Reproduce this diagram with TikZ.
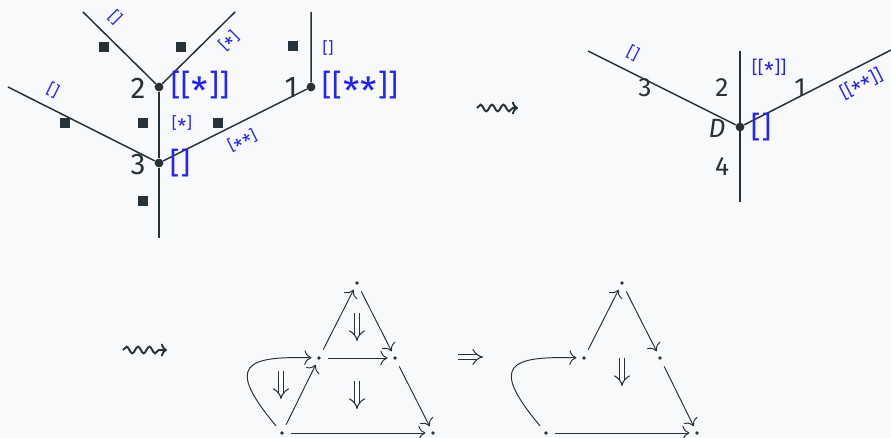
\documentclass[tikz,border=0pt]{standalone}
\usepackage{fontspec}
\setmainfont{Fira Sans}
\usetikzlibrary{arrows.meta,positioning,decorations.pathmorphing}
\definecolor{ink}{HTML}{263238}
\definecolor{lbl}{HTML}{2222FF}
\definecolor{paper}{HTML}{F8F9FA}
\newcommand{\st}{\kern.02em\raisebox{-.32em}{\scalebox{1.25}{*}}\kern.02em}
\newcommand{\ob}{[\kern.02em}
\newcommand{\cb}{\kern.02em]}
\begin{document}
\begin{tikzpicture}[
    x=0.02cm, y=-0.02cm,
    edge/.style={ink, line width=0.85pt},
    dot/.style={circle, fill=ink, inner sep=0, minimum size=5pt},
    pt/.style={circle, fill=ink, inner sep=0, minimum size=2.2pt},
    sq/.style={fill=ink, inner sep=0, minimum size=5.6pt},
    num/.style={text=ink, font=\fontsize{17}{17}\selectfont},
    numr/.style={text=ink, font=\fontsize{15}{15}\selectfont},
    big/.style={text=lbl, font=\fontsize{17}{17}\selectfont},
    small/.style={text=lbl, font=\fontsize{9}{9}\selectfont},
    arr/.style={ink, line width=0.55pt, -{To[length=4pt]}, shorten <=4pt, shorten >=3pt},
    dbl/.style={ink, line width=0.6pt, double, double distance=2.6pt, -{Implies}},
    wave/.style={ink, line width=1.1pt, -{To[length=3.5pt]}, decorate,
        decoration={snake, amplitude=1.9pt, segment length=6.5pt, post length=3pt}}
]
\fill[paper] (0,0) rectangle (891,438);
\useasboundingbox (0,0) rectangle (891,438);

% Left tree
\node[dot] (n2) at (159,87) {};
\node[dot] (n3) at (159,163) {};
\node[dot] (n1) at (311,87) {};
\coordinate (a) at (83,12);
\coordinate (b) at (235,12);
\coordinate (c) at (8,87);
\coordinate (d) at (311,12);
\coordinate (e) at (159,238);
\draw[edge] (a) -- (n2) -- (b);
\draw[edge] (n2) -- (n3) -- (e);
\draw[edge] (c) -- (n3) -- (n1) -- (d);

\node[num] (l2) at (138,88) {2};
\node[big] (w2) at (200,88) {\ob\ob\st\cb\cb};
\node[num] (l1) at (291,88) {1};
\node[big] (w1) at (360,88) {\ob\ob\st\st\cb\cb};
\node[num] (l3) at (138,165) {3};
\node[big] (w3) at (180,163) {\ob\cb};

\node[small, rotate=-45] (ea) at (115,17) {\ob\cb};
\node[small, rotate=45] (eb) at (230,42) {\ob\st\cb};
\node[small] (ed) at (328,48) {\ob\cb};
\node[small, rotate=-26.5] (ec) at (53,90) {\ob\cb};
\node[small] (em) at (182,125) {\ob\st\cb};
\node[small, rotate=26] (en) at (243,142) {\ob\st\st\cb};

\foreach \x/\y [count=\i] in {104/47, 181/47, 293/46, 65/123, 143/123, 218/123, 143/201}
    \node[sq] (s\i) at (\x,\y) {};

% First step
\coordinate (p1) at (477,108);
\coordinate (q1) at (518,108);
\draw[wave] (p1) -- (q1);

% Right tree
\node[dot] (nd) at (740,127) {};
\coordinate (f) at (588,51);
\coordinate (g) at (740,51);
\coordinate (h) at (740,202);
\coordinate (k) at (891,50);
\draw[edge] (f) -- (nd) -- (k);
\draw[edge] (g) -- (h);

\node[numr] (r3) at (645,88) {3};
\node[numr] (r2) at (722,88) {2};
\node[numr] (r1) at (800,88) {1};
\node[numr] (r4) at (722,167) {4};
\node[numr] (rd) at (717,128) {\textit{D}};
\node[big] (wd) at (761,127) {\ob\cb};
\node[small, font=\fontsize{10}{10}\selectfont] (ef) at (769,69) {\ob\ob\st\cb\cb};
\node[small, font=\fontsize{10}{10}\selectfont, rotate=27] (ek) at (862,85) {\ob\ob\st\st\cb\cb};
\node[small, rotate=-26.5] (eg) at (633,53) {\ob\cb};

% Second step
\coordinate (p2) at (123,350);
\coordinate (q2) at (167,350);
\draw[wave] (p2) -- (q2);

% Pasting diagram before
\node[pt] (t) at (357,283) {};
\node[pt] (ml) at (319,358) {};
\node[pt] (mr) at (395,358) {};
\node[pt] (bl) at (282,433) {};
\node[pt] (br) at (433,433) {};
\draw[arr] (ml) -- (t);
\draw[arr] (t) -- (mr);
\draw[arr] (ml) -- (mr);
\draw[arr] (bl) -- (ml);
\draw[arr] (mr) -- (br);
\draw[arr] (bl) -- (br);
\draw[arr] (bl) .. controls (225,365) and (245,356) .. (ml);
\draw[dbl] (357,313) -- (357,341);
\draw[dbl] (281,371) -- (281,399);
\draw[dbl] (357,381) -- (357,409);

\draw[dbl] (458,357) -- (483,357);

% Pasting diagram after
\node[pt] (t') at (622,283) {};
\node[pt] (ml') at (584,358) {};
\node[pt] (mr') at (660,358) {};
\node[pt] (bl') at (546,433) {};
\node[pt] (br') at (697,433) {};
\draw[arr] (ml') -- (t');
\draw[arr] (t') -- (mr');
\draw[arr] (mr') -- (br');
\draw[arr] (bl') -- (br');
\draw[arr] (bl') .. controls (489,365) and (509,356) .. (ml');
\draw[dbl] (622,358) -- (622,386);
\end{tikzpicture}
\end{document}
